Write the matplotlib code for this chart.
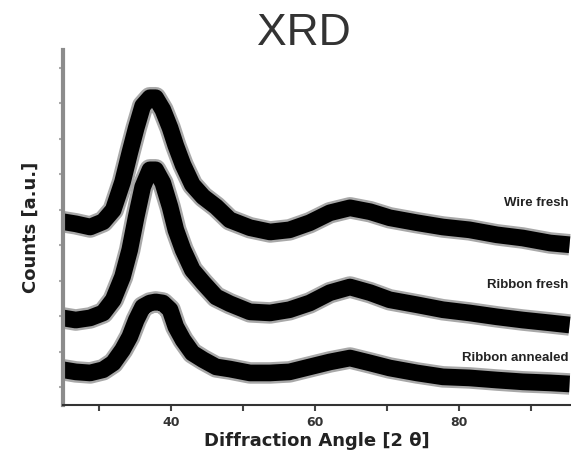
import matplotlib
matplotlib.use("Agg")
import matplotlib.pyplot as plt

# 2-theta positions
angles = [25, 26.8, 28.8, 30.6, 32, 33.3, 34.3, 35.2, 36.1, 37.1, 37.9, 38.9,
          39.9, 40.7, 41.7, 43, 44.5, 46.3, 48.2, 51, 53.8, 56.5, 59.3, 62.1,
          64.9, 67.7, 70.4, 74.2, 77.8, 81.5, 85.3, 88.9, 92.7, 95.4]

# counts in arbitrary units (curves are stacked, as in the picture)
wire_fresh = [466, 460, 451, 466, 499, 578, 660, 730, 792, 815, 815, 781,
              730, 680, 626, 570, 536, 508, 471, 449, 437, 443, 463, 491,
              505, 494, 477, 463, 451, 443, 429, 420, 406, 401]
ribbon_fresh = [195, 189, 195, 209, 246, 311, 387, 480, 564, 612, 612, 575,
                508, 443, 387, 330, 294, 254, 235, 212, 209, 218, 237, 266,
                282, 266, 246, 232, 218, 209, 198, 189, 181, 175]
ribbon_annealed = [49, 43, 40, 49, 68, 105, 142, 189, 226, 237, 240, 237,
                   218, 170, 133, 96, 77, 57, 51, 40, 40, 43, 57, 71,
                   82, 68, 54, 40, 29, 26, 20, 15, 12, 9]

series = [wire_fresh, ribbon_fresh, ribbon_annealed]
names = ["Wire fresh", "Ribbon fresh", "Ribbon annealed"]
label_y = [519, 288, 82]

x_major = [40, 60, 80]
x_minor = [30, 50, 70, 90]
y_ticks = [0, 100, 200, 300, 400, 500, 600, 700, 800, 900]


def main():
    fig = plt.figure(figsize=(5.71, 4.57), dpi=100)
    ax = fig.add_axes([0.110, 0.114, 0.89, 0.777])

    for vals in series:
        ax.plot(angles, vals, color="#a8a8a8", lw=15.5, solid_joinstyle="round",
                solid_capstyle="butt")
        ax.plot(angles, vals, color="black", lw=12, solid_joinstyle="round",
                solid_capstyle="butt")

    for name, ty in zip(names, label_y):
        ax.text(95.3, ty, name, fontsize=9.5, fontweight="bold", color="#222222",
                family="Liberation Sans", ha="right", va="center")

    ax.set_xlim(25, 95.6)
    ax.set_ylim(-50, 950)
    ax.set_xticks(x_major)
    ax.set_xticks(x_minor, minor=True)
    ax.set_yticks(y_ticks)
    ax.set_yticklabels([])
    for lab in ax.get_xticklabels():
        lab.set_fontweight("bold")
        lab.set_fontsize(9)
        lab.set_color("#333333")
    ax.tick_params(axis="x", which="both", direction="out", length=4, width=1.5,
                   color="#444444", pad=4)
    ax.tick_params(axis="y", direction="out", length=3, width=1.5, color="#aaaaaa")

    ax.spines["top"].set_visible(False)
    ax.spines["right"].set_visible(False)
    ax.spines["left"].set_color("#8c8c8c")
    ax.spines["left"].set_linewidth(3)
    ax.spines["bottom"].set_color("#333333")
    ax.spines["bottom"].set_linewidth(1.5)

    ax.set_xlabel("Diffraction Angle [2 θ]", fontsize=13, fontweight="bold",
                  color="#222222", labelpad=2)
    ax.set_ylabel("Counts [a.u.]", fontsize=13, fontweight="bold",
                  color="#222222", labelpad=10)

    fig.text(0.532, 0.9015, "XRD", fontsize=32, color="#333333",
             family="Liberation Sans", ha="center", va="baseline")

    fig.savefig("out.png", dpi=100)


if __name__ == "__main__":
    main()
